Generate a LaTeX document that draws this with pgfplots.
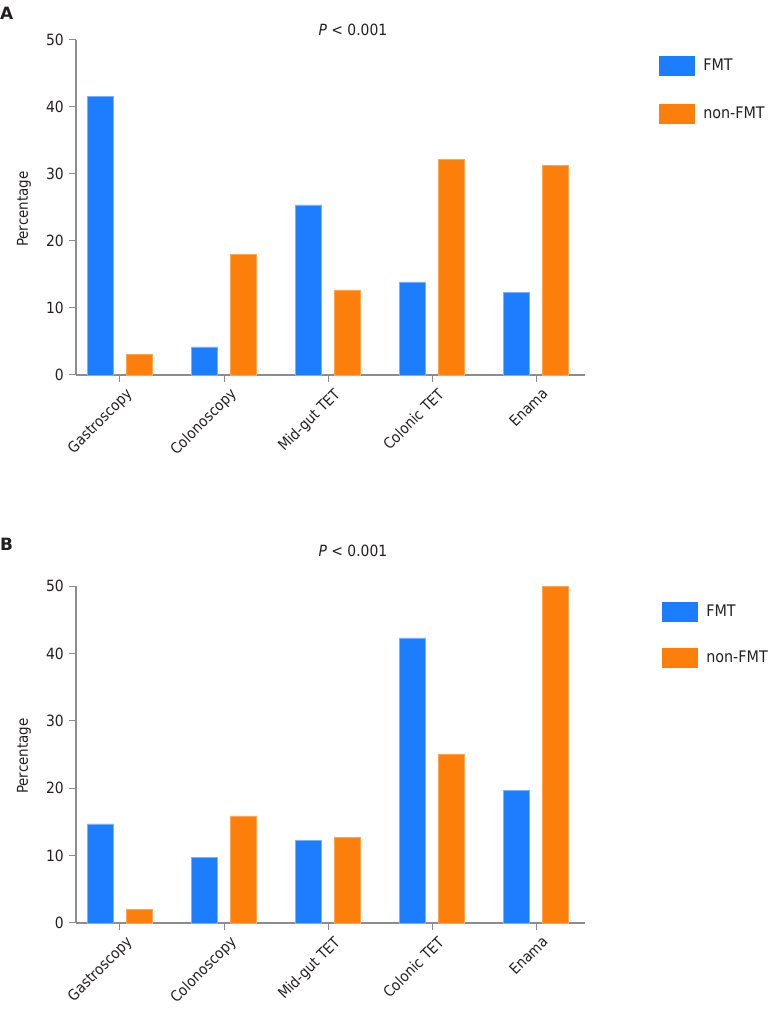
\documentclass[border=0pt]{standalone}
\usepackage{pgfplots}
\pgfplotsset{compat=1.18}
\usepackage{fontspec}
\setmainfont{DejaVu Sans Condensed}
\newfontfamily\widefont{DejaVu Sans}
\definecolor{fmt}{HTML}{1C7DFF}
\definecolor{nonfmt}{HTML}{FD7F0B}
\definecolor{axgray}{HTML}{8C8C8C}
\definecolor{txt}{HTML}{231F20}
\pgfplotsset{
  panel/.style={
    scale only axis,
    width=509bp,
    xmin=-0.423, xmax=4.471,
    ymin=0, ymax=50,
    ytick={0,10,20,30,40,50},
    xtick={0,1,2,3,4},
    xticklabels={Gastroscopy,Colonoscopy,Mid-gut TET,Colonic TET,Enama},
    axis x line*=bottom,
    axis y line*=left,
    axis line style={axgray, line width=1.2bp, -},
    every tick/.style={axgray, line width=1bp},
    major tick length=7bp,
    tick align=outside,
    x tick label style={rotate=45, anchor=north east, inner sep=1bp, xshift=1bp, yshift=-6bp, font=\fontsize{15}{17}\selectfont, text=txt},
    y tick label style={font=\fontsize{15.5}{17}\selectfont, text=txt, inner sep=2bp, xshift=-3bp},
    /pgf/number format/assume math mode=true,
    ylabel={Percentage},
    every axis y label/.style={at={(axis description cs:-0.102,0.495)}, rotate=90, anchor=center, font=\fontsize{15}{17}\selectfont, text=txt},
    legend image code/.code={\fill[##1, draw=none] (0bp,-10bp) rectangle (36bp,10bp); \path (42bp,0bp);},
    legend style={draw=none, fill=none, anchor=north west,
      font=\fontsize{16}{18}\selectfont, text=txt},
    legend cell align=left,
    clip=false,
  },
  fmtbar/.style={ybar, bar width=26bp, bar shift=-19.5bp, fill=fmt, draw=fmt!60, line width=0.6bp},
  nonbar/.style={ybar, bar width=26bp, bar shift=19.5bp, fill=nonfmt, draw=nonfmt!70, line width=0.6bp},
}
\begin{document}
\begin{tikzpicture}
\useasboundingbox (0,0) rectangle (773bp,1034bp);
% Panel A
\begin{axis}[panel, height=335bp, at={(76bp,659bp)}, anchor=south west,
  legend style={at={(axis description cs:1.139,0.960)}, row sep=28bp}]
\addplot[fmtbar] coordinates {(0,41.6) (1,4.2) (2,25.4) (3,13.9) (4,12.3)};
\addplot[nonbar] coordinates {(0,3.1) (1,18.0) (2,12.7) (3,32.2) (4,31.3)};
\legend{FMT,non-FMT}
\node[font=\fontsize{15.5}{17}\selectfont, text=txt] at (axis description cs:0.544,1.03) {\textit{P} < 0.001};
\end{axis}
% Panel B
\begin{axis}[panel, height=337bp, at={(76bp,111bp)}, anchor=south west,
  legend style={at={(axis description cs:1.145,0.960)}, row sep=26bp}]
\addplot[fmtbar] coordinates {(0,14.7) (1,9.7) (2,12.2) (3,42.3) (4,19.7)};
\addplot[nonbar] coordinates {(0,2.0) (1,15.9) (2,12.7) (3,25.1) (4,49.9)};
\legend{FMT,non-FMT}
\node[font=\fontsize{15.5}{17}\selectfont, text=txt] at (axis description cs:0.544,1.104) {\textit{P} < 0.001};
\end{axis}
\node[anchor=base west, font=\widefont\fontsize{17}{19}\selectfont\bfseries, text=txt, inner sep=0] at (0bp,1014bp) {A};
\node[anchor=base west, font=\widefont\fontsize{17}{19}\selectfont\bfseries, text=txt, inner sep=0] at (0bp,483bp) {B};
\end{tikzpicture}
\end{document}
